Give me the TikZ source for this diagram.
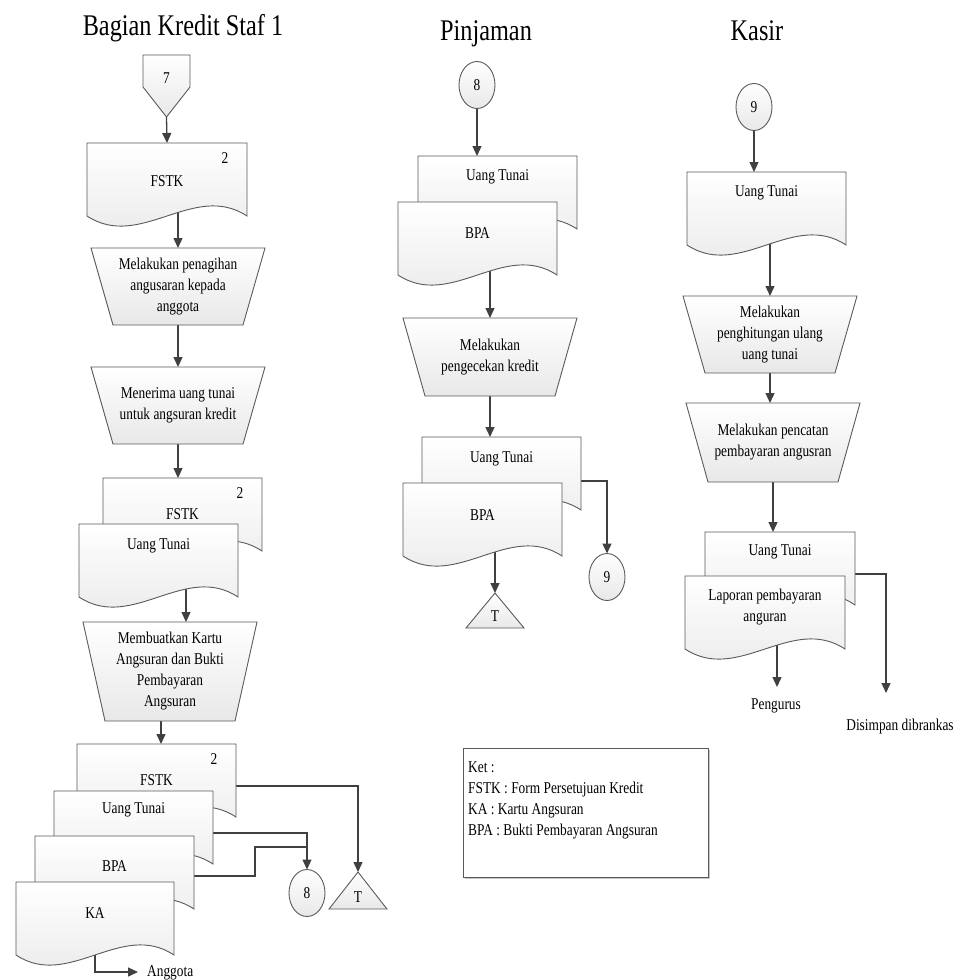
\documentclass[tikz,border=0pt]{standalone}
\usepackage{fontspec}
\setmainfont{Liberation Serif}[FakeStretch=0.81]
\usetikzlibrary{arrows.meta,shapes.geometric,calc,backgrounds,shadows}

\definecolor{linec}{HTML}{404040}
\definecolor{edgec}{HTML}{5A5A5A}
\definecolor{shadec}{HTML}{E8E8E8}

\tikzset{
  ln/.style={draw=linec, line width=1.3pt},
  arr/.style={ln, -{Triangle[length=10pt,width=9pt]}},
  shp/.style={draw=edgec, line width=0.9pt, top color=white, bottom color=shadec},
  anchorbox/.style={inner sep=0pt, outer sep=0pt, draw=none},
  lbl/.style={font=\fontsize{16.5}{21}\selectfont, align=center, inner sep=0pt, text=black},
  ttl/.style={font=\fontsize{30}{36}\selectfont, inner sep=0pt},
  conn/.style={ellipse, shp, inner sep=0pt, outer sep=0pt, minimum width=36pt,
    minimum height=47pt, font=\fontsize{16.5}{21}\selectfont},
}

% document symbol with a wavy bottom edge: name, left, top, width, text offset, text
\newcommand\mkdoc[6]{%
  \node[anchorbox, anchor=north west, minimum width=#4pt, minimum height=73pt] (#1) at (#2,#3) {};
  \path[shp] (#1.north west) -- (#1.north east) -- (#1.south east)
    .. controls ($(#1.south east)!0.333!(#1.south west)+(0,-35)$)
    and ($(#1.south east)!0.667!(#1.south west)+(0,35)$) .. (#1.south west) -- cycle;
  \node[lbl] (#1-t) at ([yshift=-#5pt]#1.north) {#6};
}
% copy number in the corner of a document
\newcommand\mkcopy[2]{%
  \node[lbl] (#1-n) at ([xshift=-22pt,yshift=-15pt]#1.north east) {#2};
}
% manual operation (trapezium): name, centre x, top, height, text
\newcommand\mkproc[5]{%
  \node[anchorbox, anchor=north, minimum width=174pt, minimum height=#4pt] (#1) at (#2,#3) {};
  \path[shp] (#1.north west) -- (#1.north east) -- ([xshift=-22pt]#1.south east)
    -- ([xshift=22pt]#1.south west) -- cycle;
  \node[lbl] (#1-t) at (#1.center) {#5};
}
% offline storage triangle: name, apex x, apex y, height
\newcommand\mkstore[4]{%
  \node[anchorbox, anchor=north, minimum width=58pt, minimum height=#4pt] (#1) at (#2,#3) {};
  \path[shp] (#1.north) -- (#1.south east) -- (#1.south west) -- cycle;
  \node[lbl] (#1-t) at ([yshift=11.5pt]#1.south) {T};
}

\begin{document}
\begin{tikzpicture}[x=1pt, y=-1pt]
\useasboundingbox (0,0) rectangle (959,980);

% ---- column titles
\node[ttl, anchor=base] (t1) at (183,35) {Bagian Kredit Staf 1};
\node[ttl, anchor=base] (t2) at (486,40) {Pinjaman};
\node[ttl, anchor=base] (t3) at (757,40) {Kasir};

% ---- Bagian Kredit Staf 1
\node[anchorbox, anchor=north west, minimum width=47pt, minimum height=62pt] (c7) at (143,55) {};
\path[shp] (c7.north west) -- (c7.north east) -- ([yshift=-32pt]c7.north east)
  -- (c7.south) -- ([yshift=-32pt]c7.north west) -- cycle;
\node[lbl] (c7-t) at ([yshift=-23pt]c7.north) {7};

\mkdoc{fstk1}{87}{143}{160}{38}{FSTK}
\mkcopy{fstk1}{2}
\mkproc{trap1}{178}{248}{77}{Melakukan penagihan\\angusaran kepada\\anggota}
\mkproc{trap2}{178}{367}{77}{Menerima uang tunai\\untuk angsuran kredit}
\mkdoc{docA}{103}{478}{159}{36}{FSTK}
\mkcopy{docA}{2}
\mkdoc{docB}{79}{524}{159}{22}{Uang Tunai}
\mkproc{trap3}{170}{622}{99}{Membuatkan Kartu\\Angsuran dan Bukti\\Pembayaran\\Angsuran}
\mkdoc{docC}{77}{744}{159}{36}{FSTK}
\mkcopy{docC}{2}
\mkdoc{docD}{54}{791}{159}{19}{Uang Tunai}
\mkdoc{docE}{35}{836}{159}{30}{BPA}
\mkdoc{docF}{16}{882}{158}{31}{KA}
\mkstore{T1}{358}{872}{37}
\node[conn] (c8b) at (307,893) {8};
\coordinate (angg) at (138,972);
\node[lbl, anchor=base west] (angg-t) at (147,976) {Anggota};

% ---- Pinjaman
\node[conn] (c8) at (477,85) {8};
\mkdoc{docG}{418}{156}{159}{21}{Uang Tunai}
\mkdoc{docH}{398}{202}{159}{31}{BPA}
\mkproc{trap4}{490}{318}{78}{Melakukan\\pengecekan kredit}
\mkdoc{docI}{422}{437}{159}{22}{Uang Tunai}
\mkdoc{docJ}{403}{483}{159}{32}{BPA}
\mkstore{T2}{495}{593}{35}
\node[conn] (c9b) at (607,577) {9};

% ---- Kasir
\node[conn] (c9) at (754,107) {9};
\mkdoc{docK}{687}{172}{159}{21}{Uang Tunai}
\mkproc{trap5}{770}{296}{77}{Melakukan\\penghitungan ulang\\uang tunai}
\mkproc{trap6}{773}{403}{79}{Melakukan pencatan\\pembayaran angusran}
\mkdoc{docL}{705}{532}{150}{20}{Uang Tunai}
\mkdoc{docM}{685}{576}{160}{31}{Laporan pembayaran\\anguran}
\coordinate (pg) at (777,687);
\node[lbl, anchor=base] (pg-t) at (776,709) {Pengurus};
\coordinate (ds) at (886,693);
\node[lbl, anchor=base] (ds-t) at (900,730) {Disimpan dibrankas};

% ---- legend
\node[anchorbox, draw=edgec, line width=0.9pt, fill=white, anchor=north west,
  minimum width=245pt, minimum height=129pt,
  drop shadow={shadow xshift=2pt, shadow yshift=-2pt, fill=black!45}] (ket) at (463,748) {};
\node[lbl, align=left, anchor=north west] (ket-t) at (468,761)
  {Ket :\\FSTK : Form Persetujuan Kredit\\KA : Kartu Angsuran\\BPA : Bukti Pembayaran Angsuran};

% ---- flow lines, kept beneath the symbols
\begin{pgfonlayer}{background}
\fill[white] (0,0) rectangle (959,980);
% Bagian Kredit Staf 1
\draw[arr] (c7.south) -- (fstk1.north);
\draw[arr] (trap1.north |- fstk1.center) -- (trap1.north);
\draw[arr] (trap1.south) -- (trap2.north);
\draw[arr] (trap2.south) -- (trap2.south |- docA.north);
\draw[arr] ([xshift=16pt]trap3.north |- docB.center) -- ([xshift=16pt]trap3.north);
\draw[arr] ([xshift=-9pt]trap3.south) -- ([xshift=-9pt]trap3.south |- docC.north);
\draw[arr] ([yshift=-5.5pt]docC.east) -| (T1.north);
\draw[arr] ([yshift=-5.5pt]docD.east) -| (c8b.north);
\draw[ln] ([yshift=-3.5pt]docE.east) -| ([xshift=-52pt,yshift=22.5pt]c8b.north)
  -- ([yshift=22.5pt]c8b.north);
\draw[arr] (docF.center) |- (angg);
% Pinjaman
\draw[arr] (c8.south) -- (c8.south |- docG.north);
\draw[arr] (trap4.north |- docH.center) -- (trap4.north);
\draw[arr] (trap4.south) -- (trap4.south |- docI.north);
\draw[arr] (T2.north |- docJ.center) -- (T2.north);
\draw[arr] ([yshift=-7.5pt]docI.east) -| (c9b.north);
% Kasir
\draw[arr] (c9.south) -- (c9.south |- docK.north);
\draw[arr] (trap5.north |- docK.center) -- (trap5.north);
\draw[arr] (trap5.south) -- (trap5.south |- trap6.north);
\draw[arr] (trap6.south) -- (trap6.south |- docL.north);
\draw[arr] (docM.center -| pg) -- (pg);
\draw[arr] ([yshift=-5.5pt]docL.east) -| (ds);
\end{pgfonlayer}
\end{tikzpicture}
\end{document}
